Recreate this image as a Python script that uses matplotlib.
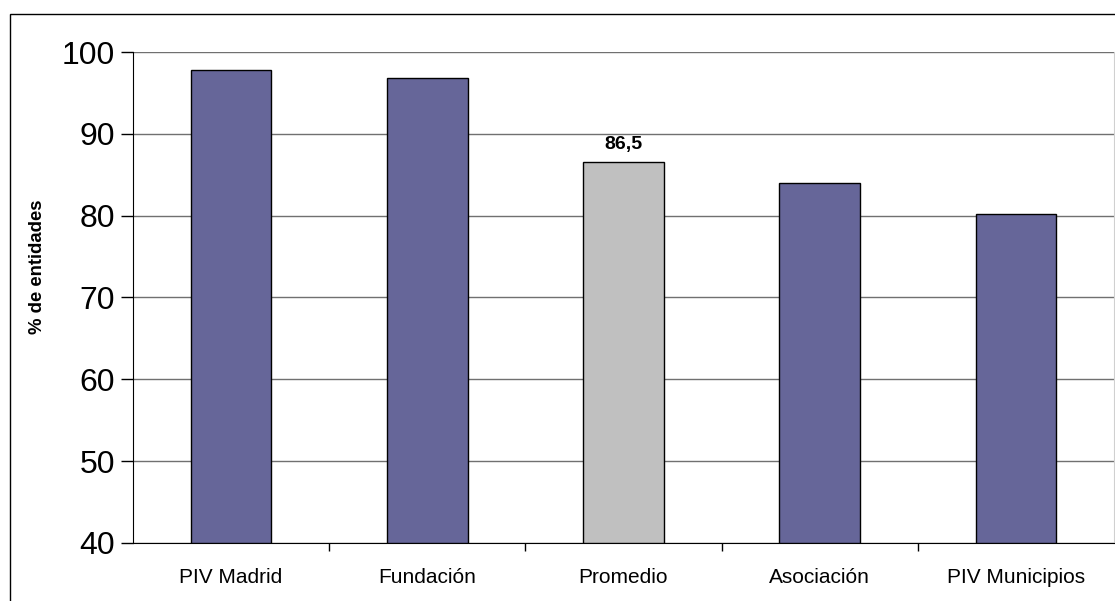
import numpy as np
import matplotlib
matplotlib.use('Agg')
import matplotlib.pyplot as plt
from matplotlib.patches import Rectangle

plt.rcParams['font.family'] = ['Liberation Sans', 'DejaVu Sans']

categories = ['PIV Madrid', 'Fundación', 'Promedio', 'Asociación', 'PIV Municipios']
values = [97.8, 96.8, 86.5, 84.0, 80.2]
bar_colors = ['#666699', '#666699', '#C0C0C0', '#666699', '#666699']
label_idx = 2  # only the average gets a value label
yticks = [40, 50, 60, 70, 80, 90, 100]

fig = plt.figure(figsize=(11.15, 6.01), dpi=100)
ax = fig.add_axes([133/1115, 58/601, 981/1115, 491/601])

x = np.arange(len(categories))
ax.bar(x, [v - 40 for v in values], bottom=40, width=0.41, color=bar_colors,
       edgecolor='black', linewidth=1.0, zorder=3)

# value label for the average bar
ax.text(x[label_idx], values[label_idx] + 1.1, f'{values[label_idx]:.1f}'.replace('.', ','),
        ha='center', va='bottom', fontsize=14, fontweight='bold')

ax.set_xlim(-0.5, len(categories) - 0.5)
ax.set_ylim(40, 100)
ax.set_yticks(yticks)
ax.set_yticklabels([str(t) for t in yticks], fontsize=23)
ax.tick_params(axis='y', direction='out', length=9, width=1, pad=4)

ax.set_xticks(x)
ax.set_xticklabels(categories, fontsize=15)
ax.tick_params(axis='x', which='major', length=0, pad=18)
ax.set_xticks(np.arange(len(categories) - 1) + 0.5, minor=True)
ax.tick_params(axis='x', which='minor', direction='out', length=6, width=1)

ax.yaxis.grid(True, color='#707070', linewidth=1.0, zorder=0)
ax.set_axisbelow(True)

ax.spines['top'].set_visible(False)
ax.spines['right'].set_color('#d0d0d0')
ax.spines['left'].set_color('black')
ax.spines['bottom'].set_color('black')

ax.set_ylabel('% de entidades', fontsize=13.3, fontweight='bold')
ax.yaxis.set_label_coords(-0.089, 0.563)

# outer chart border (runs off the right and bottom edges)
fig.patches.append(Rectangle((10/1115, -0.05), 1.1, 1 - 14/601 + 0.05,
                             transform=fig.transFigure, fill=False,
                             edgecolor='black', linewidth=1.0))

fig.savefig('out.png', dpi=100)
